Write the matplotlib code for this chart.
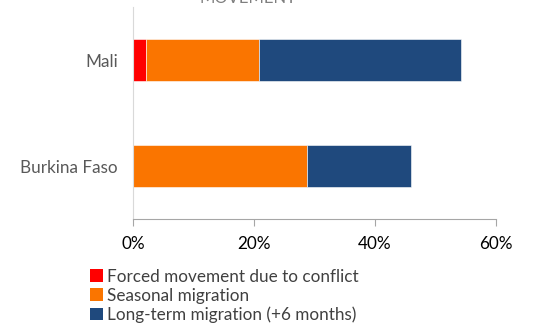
import matplotlib
matplotlib.use("Agg")
import matplotlib.pyplot as plt
from matplotlib.patches import Patch

plt.rcParams["font.family"] = ["Lato", "DejaVu Sans"]

# data (% of households)
countries = ["Burkina Faso", "Mali"]
forced = [0.0, 2.2]
seasonal = [28.7, 18.6]
long_term = [17.3, 33.5]
series_names = ["Forced movement due to conflict", "Seasonal migration",
                "Long-term migration (+6 months)"]
colors = ["#FF0000", "#FA7500", "#1F497D"]
xticks = [0, 20, 40, 60]

fig = plt.figure(figsize=(5.33, 3.26), dpi=100)
ax = fig.add_axes([0.2495, 0.328, 0.681, 0.6505])

y = range(len(countries))
left = [0.0] * len(countries)
for vals, col in zip([forced, seasonal, long_term], colors):
    ax.barh(y, vals, left=left, height=0.4, color=col,
            edgecolor="white", linewidth=0.4)
    left = [a + b for a, b in zip(left, vals)]

ax.set_xlim(0, 60)
ax.set_ylim(-0.5, 1.5)
ax.set_xticks(xticks)
ax.set_xticklabels([f"{t}%" for t in xticks], fontsize=12.3, color="black")
ax.set_yticks(list(y))
ax.set_yticklabels(countries, fontsize=12.3, color="#595959")
ax.tick_params(axis="y", length=0, pad=11)
ax.tick_params(axis="x", length=5, color="#A6A6A6", pad=7)

for s in ["top", "right"]:
    ax.spines[s].set_visible(False)
ax.spines["left"].set_color("#D9D9D9")
ax.spines["bottom"].set_color("#A6A6A6")

# title cut off at the top
fig.text(0.465, 1.0 - 3 / 326, "MOVEMENT", ha="center", va="baseline",
         fontsize=12, color="#7F7F7F")

handles = [Patch(facecolor=c, edgecolor="none") for c in colors]
fig.legend(handles, series_names, loc="upper left",
           bbox_to_anchor=(0.169, 0.176), frameon=False, fontsize=12.3,
           labelcolor="#404040", handlelength=0.75, handleheight=0.75,
           handletextpad=0.25, labelspacing=0.17, borderpad=0, borderaxespad=0)

fig.savefig("out.png", dpi=100)
